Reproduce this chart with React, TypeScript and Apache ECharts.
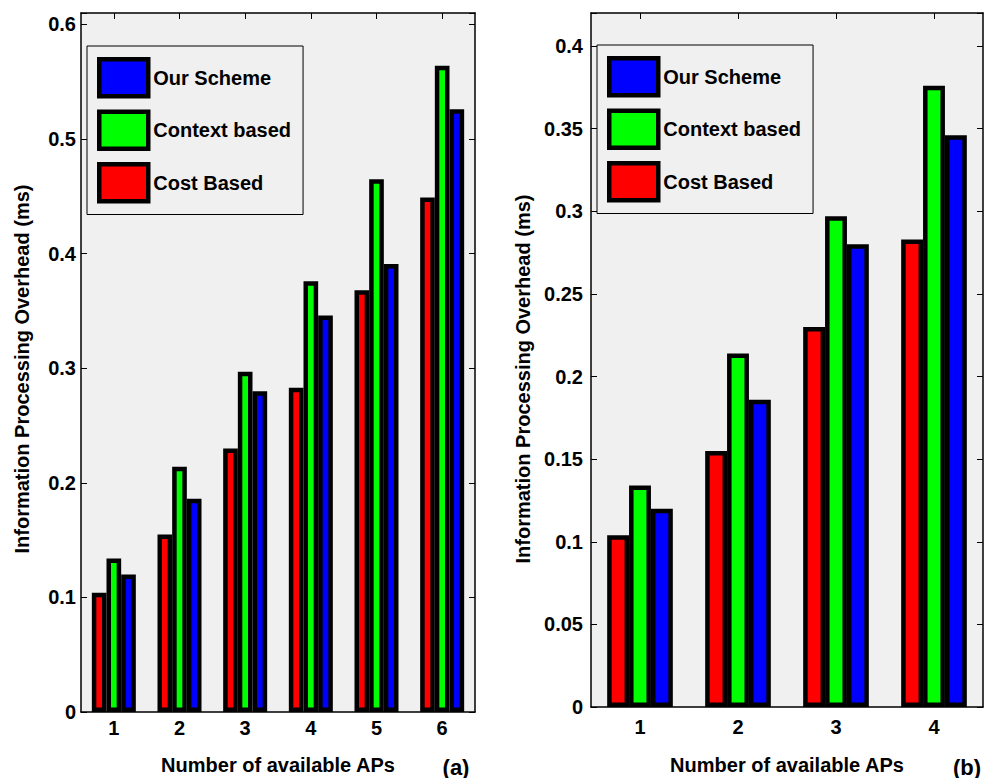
import React, { useEffect, useRef } from "react";
import * as echarts from "echarts";

// Panel (a): 1..6 APs, panel (b): 1..4 APs
const categoriesA = ["1", "2", "3", "4", "5", "6"];
const categoriesB = ["1", "2", "3", "4"];
const costBased = [0.104, 0.155, 0.23, 0.283, 0.368, 0.449];
const contextBased = [0.134, 0.214, 0.297, 0.376, 0.465, 0.564];
const ourScheme = [0.12, 0.186, 0.28, 0.346, 0.391, 0.526];
const costBasedB = [0.104, 0.155, 0.23, 0.283];
const contextBasedB = [0.134, 0.214, 0.297, 0.376];
const ourSchemeB = [0.12, 0.186, 0.28, 0.346];
const legendOrder = ["Our Scheme", "Context based", "Cost Based"];
const xTitle = "Number of available APs";
const yTitle = "Information Processing Overhead (ms)";

const FONT = "'Liberation Sans', Arial, Helvetica, sans-serif";

export default function App() {
  const ref = useRef<HTMLDivElement>(null);
  useEffect(() => {
    if (!ref.current) return;
    const chart = echarts.init(ref.current, undefined, { renderer: "svg" });
    const tick = { show: true, inside: true, length: 6, lineStyle: { color: "#000", width: 1 } };
    const axisLine = { show: true, onZero: false, lineStyle: { color: "#000", width: 1.5 } };
    const lbl = { color: "#000", fontSize: 20, fontWeight: "bold", fontFamily: FONT };
    const fmt = (interval: number) => (v: number) => {
      const r = v / interval;
      return Math.abs(r - Math.round(r)) < 1e-6 ? String(+v.toFixed(2)) : "";
    };
    const barSeries = (name: string, color: string, data: number[], idx: number) => ({
      name,
      type: "bar",
      xAxisIndex: idx,
      yAxisIndex: idx,
      data,
      barGap: "0%",
      barCategoryGap: "33%",
      itemStyle: { color, borderColor: "#000", borderWidth: 4.5 },
    });
    const legendCommon = {
      orient: "vertical",
      data: legendOrder,
      icon: "rect",
      itemWidth: 49,
      itemHeight: 37,
      itemGap: 11,
      backgroundColor: "#f0f0f0",
      borderColor: "#000",
      borderWidth: 1,
      borderRadius: 0,
      padding: [11, 12, 11, 10],
      itemStyle: { borderColor: "#000", borderWidth: 4.5 },
      textStyle: { color: "#000", fontSize: 20, fontWeight: "bold", fontFamily: FONT },
      selectedMode: false,
    };
    const titleStyle = { fill: "#000", fontSize: 20, fontWeight: "bold", fontFamily: FONT, textAlign: "center", textVerticalAlign: "middle" };
    const option: any = {
      animation: false,
      backgroundColor: "#fff",
      textStyle: { fontFamily: FONT },
      grid: [
        { left: 81, top: 13, width: 394, height: 699, show: true, backgroundColor: "#f0f0f0", borderColor: "#000", borderWidth: 0 },
        { left: 591, top: 13, width: 392, height: 694, show: true, backgroundColor: "#f0f0f0", borderColor: "#000", borderWidth: 0 },
      ],
      xAxis: [
        { type: "category", gridIndex: 0, data: categoriesA, position: "bottom", axisLine, axisTick: { ...tick, alignWithLabel: true }, axisLabel: { ...lbl, margin: 6 } },
        { type: "category", gridIndex: 0, data: categoriesA, position: "top", axisLine, axisTick: { ...tick, alignWithLabel: true }, axisLabel: { show: false } },
        { type: "category", gridIndex: 1, data: categoriesB, position: "bottom", axisLine, axisTick: { ...tick, alignWithLabel: true }, axisLabel: { ...lbl, margin: 10 } },
        { type: "category", gridIndex: 1, data: categoriesB, position: "top", axisLine, axisTick: { ...tick, alignWithLabel: true }, axisLabel: { show: false } },
      ],
      yAxis: [
        { type: "value", gridIndex: 0, min: 0, max: 0.61, interval: 0.1, position: "left", axisLine, axisTick: tick, splitLine: { show: false }, axisLabel: { ...lbl, margin: 5, formatter: fmt(0.1) } },
        { type: "value", gridIndex: 0, min: 0, max: 0.61, interval: 0.1, position: "right", axisLine, axisTick: tick, splitLine: { show: false }, axisLabel: { show: false } },
        { type: "value", gridIndex: 1, min: 0, max: 0.42, interval: 0.05, position: "left", axisLine, axisTick: tick, splitLine: { show: false }, axisLabel: { ...lbl, margin: 8, formatter: fmt(0.05) } },
        { type: "value", gridIndex: 1, min: 0, max: 0.42, interval: 0.05, position: "right", axisLine, axisTick: tick, splitLine: { show: false }, axisLabel: { show: false } },
      ],
      legend: [
        { ...legendCommon, left: 87, top: 46 },
        { ...legendCommon, left: 597, top: 45 },
      ],
      series: [
        barSeries("Cost Based", "#ff0000", costBased, 0),
        barSeries("Context based", "#00ff00", contextBased, 0),
        barSeries("Our Scheme", "#0000ff", ourScheme, 0),
        barSeries("Cost Based", "#ff0000", costBasedB, 2),
        barSeries("Context based", "#00ff00", contextBasedB, 2),
        barSeries("Our Scheme", "#0000ff", ourSchemeB, 2),
      ],
      graphic: [
        { type: "text", x: 278, y: 765, style: { ...titleStyle, text: xTitle } },
        { type: "text", x: 787, y: 765, style: { ...titleStyle, text: xTitle } },
        { type: "text", x: 456, y: 767, style: { ...titleStyle, fontSize: 22, text: "(a)" } },
        { type: "text", x: 967, y: 767, style: { ...titleStyle, fontSize: 22, text: "(b)" } },
        { type: "text", x: 22, y: 369, rotation: Math.PI / 2, style: { ...titleStyle, text: yTitle } },
        { type: "text", x: 523, y: 379, rotation: Math.PI / 2, style: { ...titleStyle, text: yTitle } },
      ],
    };
    chart.setOption(option);
    return () => chart.dispose();
  }, []);
  return <div ref={ref} style={{ position: "fixed", left: 0, top: 0, width: 989, height: 778 }} />;
}
